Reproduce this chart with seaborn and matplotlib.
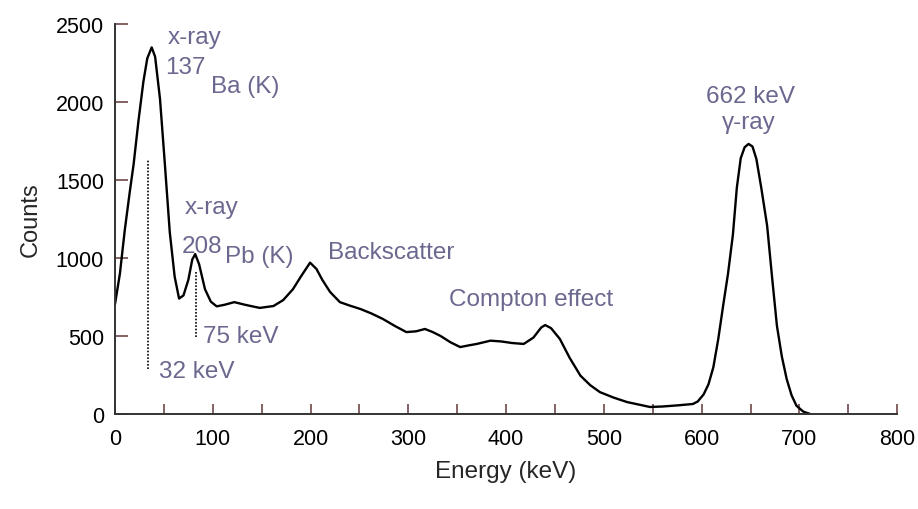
import numpy as np
import pandas as pd
import matplotlib
matplotlib.use("Agg")
import matplotlib.pyplot as plt
import seaborn as sns

# Cs-137 gamma spectrum
energy_kev = [0, 5, 10, 15, 19, 24, 29, 33, 37.5, 41, 46, 51, 56, 61, 65.5, 70, 75, 79, 82, 86,
              92, 98, 104, 112, 122, 133, 148, 162, 172, 182, 190, 199.5, 206, 212, 220, 230,
              240, 251, 262, 274, 286, 298, 308, 317, 325, 333, 343, 353, 362, 370, 384, 395,
              406, 418, 428, 436, 440, 446, 455, 465, 476, 486, 496, 510, 524, 536, 547, 560,
              575, 591, 596, 602, 607, 612, 617, 622, 627, 632, 636, 640, 644, 648, 652, 656,
              661, 667, 672, 677, 682, 687, 692, 697, 704, 711]
counts = [705, 900, 1180, 1420, 1600, 1880, 2130, 2280, 2350, 2290, 2020, 1600, 1165, 880, 740,
          760, 860, 990, 1025, 960, 800, 720, 690, 700, 717, 700, 680, 692, 730, 800, 880, 970,
          930, 860, 782, 717, 695, 673, 645, 609, 565, 525, 530, 545, 525, 500, 460, 429, 440,
          449, 470, 465, 455, 449, 490, 555, 570, 550, 481, 360, 246, 185, 140, 105, 76, 60, 45,
          48, 55, 64, 80, 125, 190, 300, 480, 694, 900, 1150, 1450, 1640, 1710, 1731, 1715, 1635,
          1450, 1207, 880, 566, 370, 224, 120, 53, 15, 0]

# dotted markers for the x-ray lines
marker_energy = [33.8, 83]
marker_low = [288, 494]
marker_high = [1635, 910]

x_ticks = [0, 100, 200, 300, 400, 500, 600, 700, 800]
y_ticks = [0, 500, 1000, 1500, 2000, 2500]

LABEL_COLOR = "#6b6890"
TICK_COLOR = "#6e4848"

sns.set_theme(style="ticks")
plt.rcParams["font.family"] = ["Liberation Sans", "DejaVu Sans"]

df = pd.DataFrame({"energy": energy_kev, "counts": counts})

fig = plt.figure(figsize=(9.18, 5.10), dpi=100)
ax = fig.add_axes([0.1253, 0.1863, 0.852, 0.7647])

sns.lineplot(data=df, x="energy", y="counts", sort=False, estimator=None,
             color="black", linewidth=1.7, ax=ax)

for e, lo, hi in zip(marker_energy, marker_low, marker_high):
    ax.vlines(e, lo, hi, colors="black", linestyles=(0, (1, 1)), linewidth=1.2)

ax.set_xlim(0, 800)
ax.set_ylim(0, 2500)
ax.set_xticks(x_ticks)
ax.set_xticks([50, 150, 250, 350, 450, 550, 650, 750], minor=True)
ax.set_yticks(y_ticks)
ax.tick_params(axis="both", which="both", direction="in", color=TICK_COLOR, width=1.2,
               labelsize=15.5, labelcolor="black")
ax.tick_params(axis="x", which="both", length=7, pad=10)
ax.tick_params(axis="y", length=9, pad=8)

for side in ["top", "right"]:
    ax.spines[side].set_visible(False)
for side in ["left", "bottom"]:
    ax.spines[side].set_color("#333333")
    ax.spines[side].set_linewidth(1.4)

ax.set_xlabel("Energy (keV)", fontsize=17.5, labelpad=8)
ax.set_ylabel("Counts", fontsize=17, labelpad=10)

txt = dict(color=LABEL_COLOR, fontsize=17.5, ha="center", va="center")
ax.text(81, 2416, "x-ray", **txt)
ax.text(72, 2224, "137", **txt)
ax.text(133, 2102, "Ba (K)", **txt)
ax.text(99, 1327, "x-ray", **txt)
ax.text(89, 1077, "208", **txt)
ax.text(148, 1013, "Pb (K)", **txt)
ax.text(282, 1038, "Backscatter", **txt)
ax.text(426, 737, "Compton effect", **txt)
ax.text(129, 500, "75 keV", **txt)
ax.text(84, 276, "32 keV", **txt)
ax.text(650, 2040, "662 keV", **txt)
ax.text(648, 1872, "\u03b3-ray", **txt)

plt.savefig("out.png", dpi=100)
plt.close()
